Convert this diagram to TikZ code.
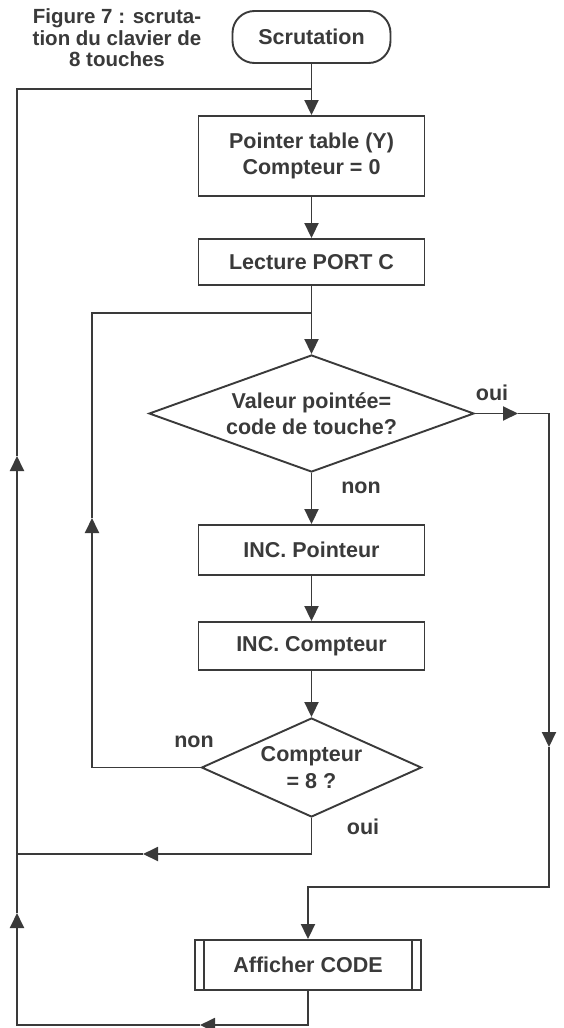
\documentclass[tikz,border=0pt]{standalone}
\usepackage{fontspec}
\setmainfont{Liberation Sans}
\usetikzlibrary{shapes.geometric,arrows.meta}
\definecolor{ink}{HTML}{3A3A3A}
\begin{document}
\begin{tikzpicture}[x=1pt,y=-1pt,
  every node/.style={font=\fontsize{21.5}{26.5}\selectfont\bfseries, text=ink},
  conn/.style={draw=ink, line width=1.9pt},
  arr/.style={conn, -{Triangle[length=15pt,width=14pt]}},
  box/.style={draw=ink, line width=1.9pt, minimum width=226pt, minimum height=48pt, inner sep=0pt, align=center},
  term/.style={draw=ink, line width=1.9pt, rounded corners=22pt, minimum width=158pt, minimum height=52pt, inner sep=0pt},
  dec/.style={draw=ink, line width=1.9pt, shape=diamond, inner sep=0pt, align=center},
  lbl/.style={inner sep=0pt},
  titlestyle/.style={font=\fontsize{20.5}{21.5}\selectfont\bfseries, align=center, inner sep=0pt}]
\fill[white] (0,0) rectangle (564,1028);
\useasboundingbox (0,0) rectangle (564,1028);

% nodes
\node[titlestyle] (title) at (117,38) {Figure 7 : scruta-\\tion du clavier de\\8 touches};
\node[term] (start) at (311.5,37) {Scrutation};
\node[box, minimum height=80pt] (b1) at (311.5,156) {Pointer table (Y)\\Compteur = 0};
\node[box, minimum height=46pt] (b2) at (311.5,262) {Lecture PORT C};
\node[dec, minimum width=325pt, minimum height=117pt, aspect=2.8] (d1) at (311.5,413.5) {\raisebox{-6pt}{\parbox{200pt}{\centering Valeur pointée=\\code de touche?}}};
\node[box, minimum height=50pt] (b3) at (311.5,550) {INC. Pointeur};
\node[box, minimum height=48pt] (b4) at (311.5,646) {INC. Compteur};
\node[dec, minimum width=220pt, minimum height=99pt, aspect=2.2] (d2) at (311.5,767.5) {Compteur\\= 8 ?};
\node[box, minimum height=50pt] (b5) at (308,965) {Afficher CODE};
\draw[conn] ([xshift=10pt]b5.north west) -- ([xshift=10pt]b5.south west);
\draw[conn] ([xshift=-10pt]b5.north east) -- ([xshift=-10pt]b5.south east);

% labels
\node[lbl] (oui1) at (492,393) {oui};
\node[lbl] (non1) at (361,488) {non};
\node[lbl] (non2) at (194,742) {non};
\node[lbl] (oui2) at (363,827) {oui};

% coordinates
\coordinate (j1) at (311.5,89);
\coordinate (j2) at (311.5,313);
\coordinate (toui) at (518,413.5);
\coordinate (tr) at (549,747);
\coordinate (r3) at (308,887);
\coordinate (tl) at (92,518);
\coordinate (tm) at (143,854);
\coordinate (m2) at (17,854);
\coordinate (tn) at (200,1025);
\coordinate (n2) at (17,1025);
\coordinate (to1) at (17,913);
\coordinate (to2) at (17,456);
\coordinate (n3) at (17,89);

% main flow
\draw[arr] (start.south) -- (b1.north);
\draw[arr] (b1) -- (b2);
\draw[arr] (b2) -- (d1);
\draw[arr] (d1) -- (b3);
\draw[arr] (b3) -- (b4);
\draw[arr] (b4) -- (d2);

% oui branch of d1
\draw[arr] (d1.east) -- (toui);
\draw[arr] (toui) -| (tr);
\draw[arr] (tr) |- (r3) -- (b5.north);

% non branch of d2 (inner loop)
\draw[arr] (d2.west) -| (tl);
\draw[conn] (tl) |- (j2);

% oui branch of d2
\draw[arr] (d2.south) |- (tm);
\draw[conn] (tm) -- (m2);

% outer loop
\draw[arr] (b5.south) |- (tn);
\draw[arr] (tn) -- (n2) -- (to1);
\draw[arr] (to1) -- (to2);
\draw[conn] (to2) -- (n3) -- (j1);
\end{tikzpicture}
\end{document}
